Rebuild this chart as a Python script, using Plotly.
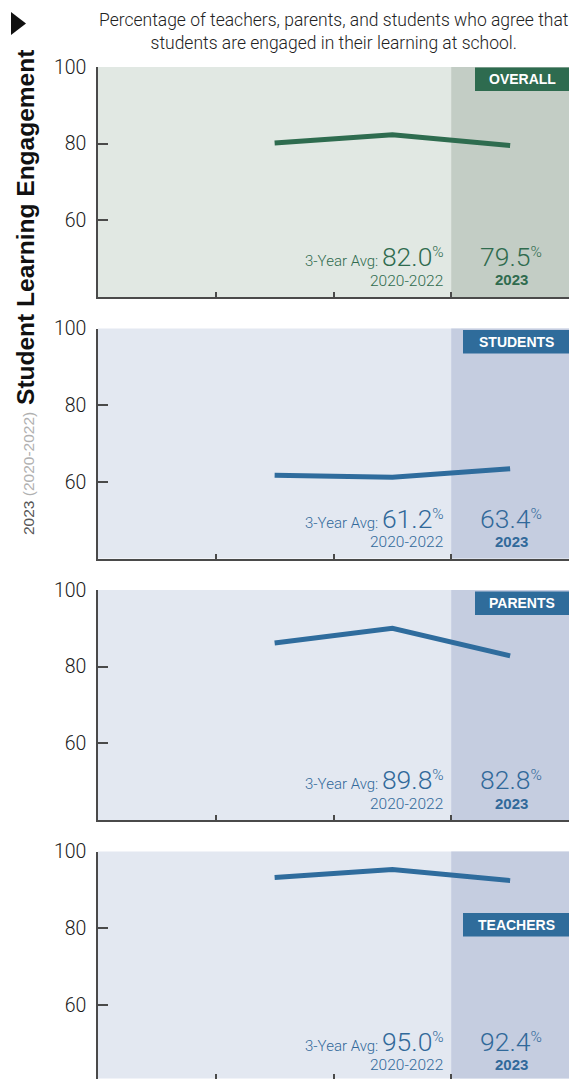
import plotly.graph_objects as go

# ---------------- data ----------------
years = [2021, 2022, 2023]
panel_names = ["OVERALL", "STUDENTS", "PARENTS", "TEACHERS"]
overall = [80.2, 82.3, 79.5]
students = [61.7, 61.2, 63.4]
parents = [86.2, 90.0, 82.8]
teachers = [93.2, 95.3, 92.4]
avg_3yr = ["82.0", "61.2", "89.8", "95.0"]
latest = ["79.5", "63.4", "82.8", "92.4"]
avg_period = "2020-2022"
latest_year = "2023"
y_ticks = [60, 80, 100]
x_range = [2019.5, 2023.5]
x_ticks = [2020.5, 2021.5, 2022.5]
shade_span = [2022.5, 2023.5]
title_text = ("Percentage of teachers, parents, and students who agree that<br>"
              "students are engaged in their learning at school.")
side_title = "Student Learning Engagement"
side_sub_a = "2023"
side_sub_b = "(2020-2022)"

series = [overall, students, parents, teachers]

# ---------------- styles ----------------
W, H = 569, 1079
LIGHT = "Roboto, Liberation Sans, Arial, sans-serif"
REG = "Liberation Sans, Arial, sans-serif"
GREEN = dict(line="#2e6c4f", bg="#e1e8e3", shade="#c3cdc5", box="#2e6b4f", text="#2f6b4e")
BLUE = dict(line="#2f6c9d", bg="#e3e8f1", shade="#c5cde0", box="#2f6c9b", text="#31699a")
themes = [GREEN, BLUE, BLUE, BLUE]
tops = [67, 328.5, 590, 851.5]
PH = 230
PXU = PH / 60.0
box_left = [475, 463, 475, 463]
box_top_off = [0.5, 1.5, 1.5, 61.5]
box_h = 23.5
X0 = 98


def px(x):
    return x / W


def py(y):
    return 1 - y / H


fig = go.Figure()
layout = dict(
    width=W, height=H, autosize=False,
    margin=dict(l=0, r=0, t=0, b=0, pad=0, autoexpand=False),
    paper_bgcolor="white", plot_bgcolor="rgba(0,0,0,0)",
    showlegend=False, hovermode=False,
)
shapes = []
annotations = []

for i in range(4):
    sfx = "" if i == 0 else str(i + 1)
    xr, yr = "x" + sfx, "y" + sfx
    th = themes[i]
    T = tops[i]
    B = min(T + PH, 1078.5)
    ymin = 100 - (B - T) / PXU

    fig.add_trace(go.Scatter(
        x=years, y=series[i], mode="lines",
        line=dict(color=th["line"], width=5),
        xaxis=xr, yaxis=yr, hoverinfo="skip",
    ))

    layout["xaxis" + sfx] = dict(
        domain=[px(X0), 1], range=x_range, anchor=yr, automargin=False,
        showline=True, linecolor="#4a4a4a", linewidth=1.5,
        ticks="inside", ticklen=5, tickwidth=1.5, tickcolor="#4a4a4a",
        tickvals=x_ticks, showticklabels=False,
        showgrid=False, zeroline=False, fixedrange=True,
    )
    layout["yaxis" + sfx] = dict(
        domain=[py(B), py(T)], range=[ymin, 100], anchor=xr, automargin=False,
        showline=True, linecolor="#4a4a4a", linewidth=1.5,
        ticks="inside", ticklen=10, tickwidth=1.5, tickcolor="#4a4a4a",
        tickvals=y_ticks, ticktext=[str(v) for v in y_ticks],
        tickfont=dict(family=LIGHT, size=19.5, color="#1a1a1a", weight=300),
        ticklabelstandoff=6,
        showgrid=False, zeroline=False, fixedrange=True,
    )

    # panel background
    shapes.append(dict(type="rect", xref=xr + " domain", yref=yr + " domain",
                       x0=0, x1=1, y0=0, y1=1, fillcolor=th["bg"],
                       line=dict(width=0), layer="below"))
    # shaded latest-year column
    shapes.append(dict(type="rect", xref=xr, yref=yr + " domain",
                       x0=shade_span[0], x1=shade_span[1], y0=0, y1=1,
                       fillcolor=th["shade"], line=dict(width=0), layer="below"))
    # label box
    bt = T + box_top_off[i]
    shapes.append(dict(type="rect", xref="paper", yref="paper",
                       x0=px(box_left[i]), x1=1, y0=py(bt + box_h), y1=py(bt),
                       fillcolor=th["box"], line=dict(width=0), layer="above"))
    annotations.append(dict(
        text="<b>%s</b>" % panel_names[i], xref="paper", yref="paper",
        x=px((box_left[i] + W) / 2), y=py(bt + box_h / 2),
        xanchor="center", yanchor="middle", showarrow=False,
        font=dict(family=REG, size=14, color="white"),
    ))

    # 3-year average
    big = "<span style=\"font-size:26.5px\">%s</span>"
    pct = "<span style=\"font-size:22px\"><sup>%</sup></span>"
    annotations.append(dict(
        text="3-Year Avg: " + big % avg_3yr[i] + pct,
        xref="paper", yref="paper", x=px(446), y=py(T + 189.5),
        xanchor="right", yanchor="middle", showarrow=False,
        font=dict(family=LIGHT, size=15, color=th["text"], weight=300),
    ))
    annotations.append(dict(
        text=avg_period, xref="paper", yref="paper", x=px(445), y=py(T + 213.5),
        xanchor="right", yanchor="middle", showarrow=False,
        font=dict(family=LIGHT, size=15.5, color=th["text"], weight=300),
    ))
    # latest year
    annotations.append(dict(
        text=big % latest[i] + pct,
        xref="paper", yref="paper", x=px(511), y=py(T + 189.5),
        xanchor="center", yanchor="middle", showarrow=False,
        font=dict(family=LIGHT, size=15, color=th["text"], weight=300),
    ))
    annotations.append(dict(
        text="<b>%s</b>" % latest_year, xref="paper", yref="paper",
        x=px(511), y=py(T + 213),
        xanchor="center", yanchor="middle", showarrow=False,
        font=dict(family=REG, size=15, color=th["text"]),
    ))

# subtitle
annotations.append(dict(
    text=title_text, xref="paper", yref="paper", x=px(333), y=py(32),
    xanchor="center", yanchor="middle", showarrow=False, align="center",
    font=dict(family=LIGHT, size=17.5, color="#222222", weight=300),
))
# rotated side title
annotations.append(dict(
    text=("<span style=\"font-size:15.5px;color:#555555;font-weight:normal\">%s "
          "<span style=\"color:#b0b0b0\">%s</span></span> <b>%s</b>")
    % (side_sub_a, side_sub_b, side_title),
    xref="paper", yref="paper", x=px(25), y=py(293),
    xanchor="center", yanchor="middle", textangle=-90, showarrow=False,
    font=dict(family=REG, size=24.5, color="#111111"),
))
# triangle marker
tri = [(11, 12), (11, 35), (26, 23.5)]
path = "M %f,%f L %f,%f L %f,%f Z" % (px(tri[0][0]), py(tri[0][1]),
                                       px(tri[1][0]), py(tri[1][1]),
                                       px(tri[2][0]), py(tri[2][1]))
shapes.append(dict(type="path", xref="paper", yref="paper", path=path,
                   fillcolor="#111111", line=dict(width=0)))

layout["shapes"] = shapes
layout["annotations"] = annotations
fig.update_layout(**layout)
fig.write_html("out.html")
